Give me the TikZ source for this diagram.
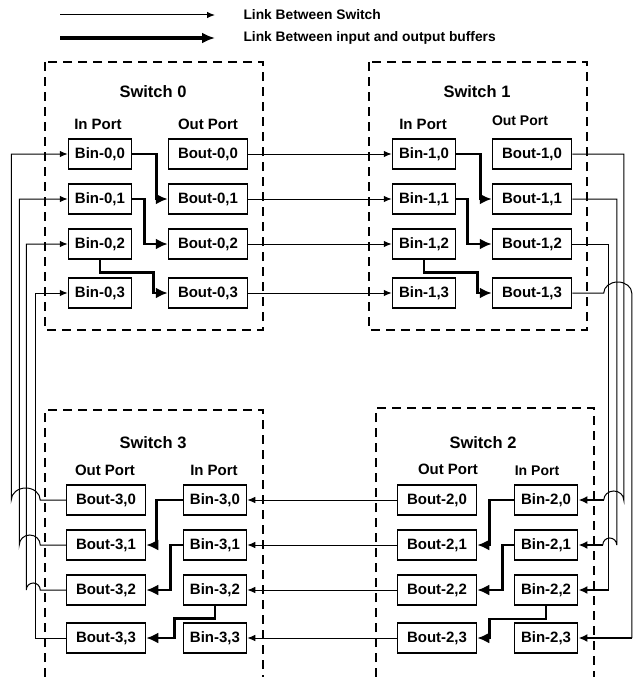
\documentclass[tikz,border=0pt]{standalone}
\usepackage{fontspec}
\setmainfont{Liberation Sans}
\usetikzlibrary{arrows.meta}

\begin{document}
\begin{tikzpicture}[x=1pt, y=-1pt, >={Latex[length=8pt,width=6.5pt]},
		font=\fontsize{15}{15}\selectfont\bfseries,
		buf/.style={draw, line width=1.5pt, minimum height=30pt, inner sep=0pt},
		bin/.style={buf, minimum width=63pt},
		bout/.style={buf, minimum width=79pt},
		lnk/.style={line width=1pt, ->},
		thk/.style={line width=2.7pt, -{Latex[length=12pt,width=11pt]}},
		med/.style={line width=1.9pt, -{Latex[length=9pt,width=8pt]}},
		sw/.style={line width=1.3pt, dash pattern=on 9pt off 6pt},
		titel/.style={font=\fontsize{16.5}{16.5}\selectfont\bfseries},
		klein/.style={font=\fontsize{14}{14}\selectfont\bfseries},
		legende/.style={font=\fontsize{13.8}{13.8}\selectfont\bfseries, anchor=west}]
			\useasboundingbox (0,0) rectangle (634,677);
			% Legende
			\coordinate (la1) at (60,15);
			\coordinate (lb1) at (215,15);
			\coordinate (la2) at (60,38);
			\coordinate (lb2) at (215,38);
			\draw[lnk] (la1) -- (lb1);
			\draw[line width=3.5pt, -{Latex[length=13pt,width=11pt]}] (la2) -- (lb2);
			\node[legende] (leg1) at (240,15) {Link Between Switch};
			\node[legende] (leg2) at (240,38) {Link Between input and output buffers};
			% Schalter zeichnen
			\draw[sw] (45,62) rectangle (263,330);
			\draw[sw] (369,62) rectangle (587,330);
			\draw[sw] (45,677) -- (45,410) -- (263,410) -- (263,677);
			\draw[sw] (376,677) -- (376,408) -- (594,408) -- (594,677);
			\node[titel] (sw0) at (153,92) {Switch 0};
			\node[titel] (sw1) at (477,92) {Switch 1};
			\node[titel] (sw3) at (153,443) {Switch 3};
			\node[titel] (sw2) at (483,443) {Switch 2};
			% Ports beschriften
			\node (ip0) at (98,124) {In Port};
			\node (op0) at (208,124) {Out Port};
			\node (ip1) at (423,124) {In Port};
			\node[klein] (op1) at (520,121) {Out Port};
			\node (op3) at (105,470) {Out Port};
			\node (ip3) at (214,470) {In Port};
			\node (op2) at (448,469) {Out Port};
			\node[klein] (ip2) at (537,471) {In Port};
			% Puffer
			\foreach \k/\y in {0/154,1/199,2/244,3/293}{
				\node[bin] (bin0\k) at (100,\y) {Bin-0,\k};
				\node[bout] (bout0\k) at (208,\y) {Bout-0,\k};
				\node[bin] (bin1\k) at (424,\y) {Bin-1,\k};
				\node[bout] (bout1\k) at (532,\y) {Bout-1,\k};
			}
			\foreach \k/\y in {0/500,1/545,2/590,3/638}{
				\node[bout] (bout3\k) at (106,\y) {Bout-3,\k};
				\node[bin] (bin3\k) at (215,\y) {Bin-3,\k};
				\node[bout] (bout2\k) at (437,\y) {Bout-2,\k};
				\node[bin, line width=1.9pt] (bin2\k) at (546,\y) {Bin-2,\k};
			}
			% Verbindungen im Schalter
			\draw[thk] (bin00.east) -- ++(24,0) |- (bout01.west);
			\draw[thk] (bin01.east) -- ++(12,0) |- (bout02.west);
			\draw[thk] (bin02.south) -- ++(0,13) -| ([xshift=-14pt]bout03.west) -- (bout03.west);
			\draw[thk] (bin10.east) -- ++(24,0) |- (bout11.west);
			\draw[thk] (bin11.east) -- ++(11,0) |- (bout12.west);
			\draw[thk] (bin12.south) -- ++(0,13) -| ([xshift=-14pt]bout13.west) -- (bout13.west);
			\draw[thk] (bin30.west) -- ++(-26,0) |- (bout31.east);
			\draw[thk] (bin31.west) -- ++(-12,0) |- (bout32.east);
			\draw[thk] (bin32.south) -- ++(0,13) -| ([xshift=28pt]bout33.east) -- (bout33.east);
			\draw[thk] (bin20.west) -- ++(-24,0) |- (bout21.east);
			\draw[thk] (bin21.west) -- ++(-11,0) |- (bout22.east);
			\draw[thk] (bin22.south) -- ++(0,13) -| ([xshift=12pt]bout23.east) -- (bout23.east);
			% Verbindungen zwischen den Schaltern
			\foreach \k in {0,...,3}{
				\draw[lnk] (bout0\k.east) -- (bin1\k.west);
				\draw[lnk] (bout2\k.west) -- (bin3\k.east);
			}
			% rechts: Schalter 1 nach Schalter 2
			\draw[lnk, -] (bout10.east) -| ++(51.5,346) arc[start angle=0, end angle=-180, x radius=10, y radius=9] coordinate (h20);
			\draw[lnk, -] (bout11.east) -| ++(44.5,346) arc[start angle=0, end angle=-180, x radius=7, y radius=7] coordinate (h21);
			\draw[lnk, -] (bout12.east) -| ++(36.5,346) coordinate (h22);
			\draw[lnk, -] (bout13.east) -- ++(31.5,0) arc[start angle=180, end angle=360, x radius=14, y radius=11] -- ++(0,345) coordinate (h23);
			\draw[med] (h20) -- (bin20.east);
			\draw[med] (h21) -- (bin21.east);
			\draw[med] (h22) -- (bin22.east);
			\draw[med] (h23) -- (bin23.east);
			% links: Schalter 3 nach Schalter 0
			\draw[lnk] (bout30.west) -- ++(-25.5,0) arc[start angle=0, end angle=-180, x radius=14.5, y radius=12] |- (bin00.west);
			\draw[lnk] (bout31.west) -- ++(-25.5,0) arc[start angle=0, end angle=-180, x radius=10.5, y radius=10] |- (bin01.west);
			\draw[lnk] (bout32.west) -- ++(-25.5,0) arc[start angle=0, end angle=-180, x radius=7, y radius=7] |- (bin02.west);
			\draw[lnk] (bout33.west) -| ([xshift=-32pt]bin03.west) -- (bin03.west);
		\end{tikzpicture}
\end{document}
